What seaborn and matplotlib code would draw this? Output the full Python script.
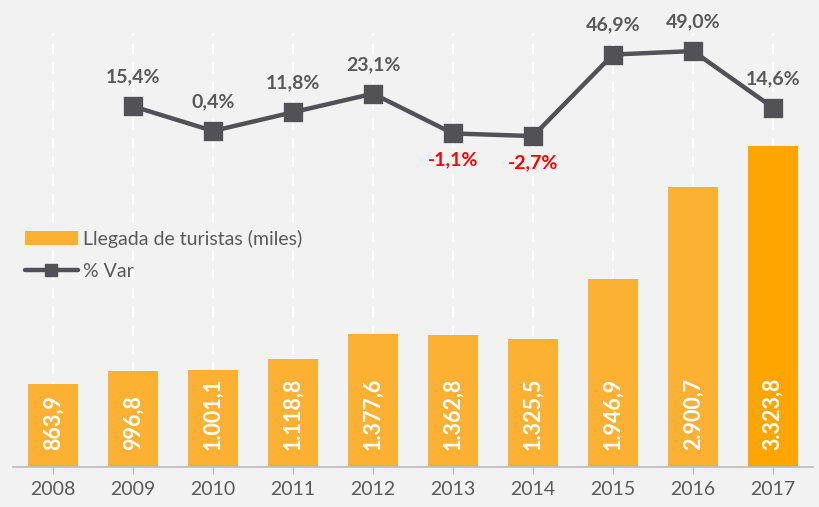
import matplotlib
matplotlib.use("Agg")
import matplotlib.pyplot as plt
import seaborn as sns
import pandas as pd
from matplotlib.patches import Patch
from matplotlib.lines import Line2D

# data
years = ["2008", "2009", "2010", "2011", "2012", "2013", "2014", "2015", "2016", "2017"]
arrivals = [863.9, 996.8, 1001.1, 1118.8, 1377.6, 1362.8, 1325.5, 1946.9, 2900.7, 3323.8]
arrival_labels = ["863,9", "996,8", "1.001,1", "1.118,8", "1.377,6", "1.362,8", "1.325,5",
                  "1.946,9", "2.900,7", "3.323,8"]
var_years = ["2009", "2010", "2011", "2012", "2013", "2014", "2015", "2016", "2017"]
var_pct = [15.4, 0.4, 11.8, 23.1, -1.1, -2.7, 46.9, 49.0, 14.6]
var_labels = ["15,4%", "0,4%", "11,8%", "23,1%", "-1,1%", "-2,7%", "46,9%", "49,0%", "14,6%"]

bar_color = "#FCB133"
last_color = "#FFA500"
line_color = "#525256"
text_grey = "#595959"

sns.set_theme(style="white")
plt.rcParams["font.family"] = ["Lato", "DejaVu Sans"]

df = pd.DataFrame({"year": years, "arrivals": arrivals})
df_var = pd.DataFrame({"year": var_years, "pct": var_pct})

fig = plt.figure(figsize=(8.19, 5.07), dpi=100, facecolor="#F2F2F2")
ax = fig.add_axes([13 / 819, 40 / 507, 800 / 819, 434 / 507])
ax.set_facecolor("#F2F2F2")

palette = [bar_color] * (len(years) - 1) + [last_color]
sns.barplot(data=df, x="year", y="arrivals", hue="year", palette=palette,
            legend=False, width=0.625, saturation=1, linewidth=0, ax=ax)
ax.set_ylim(0, 4493)
ax.set_xlim(-0.5, len(years) - 0.5)

# bar value labels, white, rotated inside bars
for i, lab in enumerate(arrival_labels):
    ax.annotate(lab, xy=(i, 0), xytext=(0, 12), textcoords="offset points",
                rotation=90, ha="center", va="bottom", color="white",
                fontsize=15.5, fontweight="bold")

ax.set_xlabel("")
ax.set_ylabel("")
ax.set_yticks([])
ax.tick_params(axis="x", colors="#BFBFBF", length=5, width=1, labelsize=14,
               labelcolor=text_grey, pad=5, bottom=True)
ax.xaxis.grid(True, color="white", linestyle=(0, (5, 4)), linewidth=1.5)
ax.set_axisbelow(True)
for s in ["top", "left", "right"]:
    ax.spines[s].set_visible(False)
ax.spines["bottom"].set_color("#BFBFBF")

ax2 = ax.twinx()
sns.pointplot(data=df_var, x="year", y="pct", order=years, color=line_color,
              markers="s", markersize=11, linewidth=3.2, ax=ax2)
ax2.set_ylim(-204, 60)
ax2.set_xlim(-0.5, len(years) - 0.5)
ax2.set_yticks([])
ax2.set_ylabel("")
ax2.set_xlabel("")
for s in ax2.spines.values():
    s.set_visible(False)

for yr, v, lab in zip(var_years, var_pct, var_labels):
    i = years.index(yr)
    if v < 0:
        ax2.annotate(lab, xy=(i, v), xytext=(0, -13), textcoords="offset points",
                     ha="center", va="top", color="#FF0000", fontsize=14,
                     fontweight="bold", annotation_clip=False)
    else:
        ax2.annotate(lab, xy=(i, v), xytext=(0, 15), textcoords="offset points",
                     ha="center", va="bottom", color=text_grey, fontsize=14,
                     fontweight="bold", annotation_clip=False)

handles = [Patch(facecolor=bar_color, edgecolor="none"),
           Line2D([], [], color=line_color, lw=3.2, marker="s", markersize=9)]
fig.legend(handles, ["Llegada de turistas (miles)", "% Var"], loc="upper left",
           bbox_to_anchor=(25 / 819, 1 - 230 / 507), frameon=False, fontsize=14,
           labelcolor=text_grey, handlelength=2.7, handletextpad=0.3,
           labelspacing=0.76, borderpad=0, borderaxespad=0)

fig.savefig("out.png", dpi=100, facecolor=fig.get_facecolor())
